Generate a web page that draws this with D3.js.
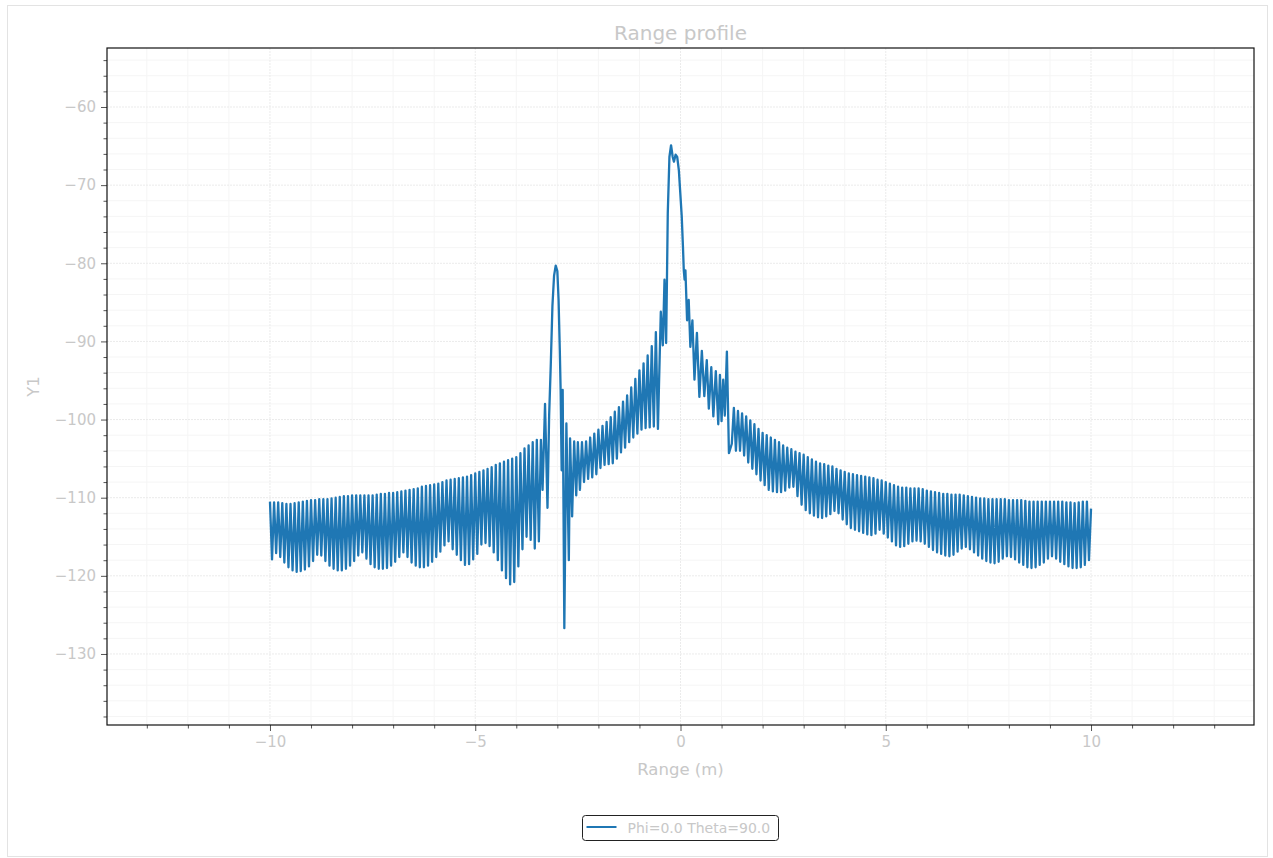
<!DOCTYPE html>
<html>
<head>
<meta charset="utf-8">
<script src="https://cdn.jsdelivr.net/npm/d3@7"></script>
<style>
  html, body { margin: 0; padding: 0; background: #ffffff; }
  svg { display: block; font-family: "DejaVu Sans", sans-serif; }
</style>
</head>
<body>
<svg id="chart" width="1273" height="858"></svg>
<script>
// ---------------- DATA ----------------
const chartTitle = "Range profile";
const xLabel = "Range (m)";
const yLabel = "Y1";
const seriesName = "Phi=0.0 Theta=90.0";

const xTicks = [-10, -5, 0, 5, 10];
const yTicks = [-130, -120, -110, -100, -90, -80, -70, -60];

// sampling of the oscillating stretches: one ripple every 0.1 m
const rippleStep = 0.1;

// left side, -10.00 .. -3.50 (ripple tops) and -9.95 .. -3.45 (ripple nulls)
const leftStart = -10.0;
const leftPeaks = [
  -110.5, -110.6, -110.6, -110.7, -110.8, -110.8, -110.7, -110.6, -110.5, -110.4,
  -110.3, -110.3, -110.2, -110.2, -110.2, -110.1, -110.0, -109.9, -109.8, -109.8,
  -109.7, -109.7, -109.7, -109.7, -109.7, -109.7, -109.6, -109.5, -109.5, -109.4,
  -109.4, -109.3, -109.2, -109.1, -109.0, -108.9, -108.8, -108.6, -108.5, -108.4,
  -108.3, -108.2, -108.0, -107.8, -107.7, -107.6, -107.5, -107.4, -107.3, -107.1,
  -106.9, -106.7, -106.5, -106.3, -106.1, -105.8, -105.6, -105.4, -105.2, -105.0,
  -104.8, -104.3, -103.7, -103.3, -102.9, -102.6
];
const leftNulls = [
  -117.9, -117.1, -117.6, -118.3, -118.9, -119.3, -119.5, -119.4, -119.2, -118.8,
  -118.1, -117.3, -117.4, -118.1, -118.7, -119.1, -119.3, -119.3, -119.1, -118.7,
  -118.1, -117.4, -117.0, -117.8, -118.5, -118.9, -119.1, -119.1, -119.0, -118.7,
  -118.2, -117.6, -117.0, -117.6, -118.3, -118.7, -118.9, -118.9, -118.7, -118.2,
  -117.6, -116.9, -116.1, -115.6, -116.6, -117.3, -118.0, -118.6, -118.5, -117.9,
  -117.2, -116.0, -115.8, -116.2, -117.0, -118.0, -119.3, -120.3, -121.1, -120.8,
  -118.8, -116.6, -115.0, -115.4, -116.5, -115.6
];

// secondary scatterer near -3 m (irregular samples)
const targetAX = [-3.40, -3.36, -3.30, -3.24, -3.20, -3.16, -3.12, -3.08, -3.04, -3.00,
                  -2.97, -2.94, -2.92, -2.895, -2.87, -2.83, -2.78, -2.72, -2.69, -2.64,
                  -2.59, -2.54];
const targetADb = [-102.6, -109.0, -98.0, -111.3, -99.5, -93.0, -85.5, -81.6, -80.3, -81.0,
                   -84.7, -91.1, -96.2, -106.5, -96.2, -126.7, -100.5, -118.0, -102.4, -112.4,
                   -102.8, -109.7];

// middle stretch, -2.50 .. -0.60 (tops) and -2.45 .. -0.55 (nulls)
const midStart = -2.5;
const midPeaks = [
  -102.9, -102.9, -102.8, -102.3, -101.8, -101.3, -100.8, -100.3, -99.7, -99.0,
  -98.4, -97.7, -96.9, -95.9, -94.8, -93.7, -92.8, -91.8, -90.6, -88.8
];
const midNulls = [
  -109.0, -108.0, -107.6, -107.4, -107.0, -106.2, -105.8, -105.7, -105.6, -105.0,
  -104.2, -103.6, -102.9, -102.3, -101.8, -101.3, -101.1, -101.0, -100.9, -101.2
];

// main scatterer near 0 m (irregular samples)
const targetBX = [-0.48, -0.43, -0.39, -0.35, -0.33, -0.31, -0.27, -0.23, -0.19, -0.16,
                  -0.12, -0.08, -0.04, -0.01, 0.03, 0.06, 0.08, 0.10, 0.12, 0.16,
                  0.20, 0.24, 0.29, 0.34, 0.40, 0.46, 0.52, 0.58, 0.64, 0.69,
                  0.75, 0.80, 0.86, 0.92, 0.96, 1.00, 1.04, 1.08, 1.13, 1.18];
const targetBDb = [-86.2, -90.5, -82.1, -90.2, -82.1, -73.6, -66.4, -64.9, -66.4, -67.0,
                   -66.1, -66.4, -68.1, -70.6, -74.0, -77.9, -80.9, -82.1, -80.9, -87.3,
                   -84.7, -90.7, -87.3, -94.9, -88.9, -97.1, -91.2, -97.0, -92.4, -98.6,
                   -93.3, -99.6, -93.8, -100.6, -94.3, -100.2, -94.9, -99.5, -91.3, -104.3];

// right side, 1.25 .. 9.95 (nulls) and 1.30 .. 10.00 (tops)
const rightStart = 1.25;
const rightNulls = [
  -103.1, -104.0, -104.0, -104.6, -105.5, -106.3, -107.0, -107.8, -108.4, -109.0,
  -109.2, -109.3, -109.3, -109.1, -108.7, -108.6, -109.8, -110.9, -111.6, -112.0,
  -112.3, -112.5, -112.6, -112.4, -112.1, -111.7, -112.0, -112.8, -113.4, -113.9,
  -114.1, -114.3, -114.5, -114.7, -114.8, -114.6, -114.1, -114.6, -115.1, -115.6,
  -116.1, -116.3, -116.2, -115.9, -115.6, -115.5, -115.6, -115.9, -116.3, -116.7,
  -117.0, -117.2, -117.4, -117.5, -117.3, -116.9, -116.5, -116.3, -116.6, -117.0,
  -117.4, -117.8, -118.1, -118.3, -118.4, -118.2, -117.8, -117.5, -117.6, -117.9,
  -118.3, -118.6, -118.9, -119.0, -118.9, -118.6, -118.3, -117.8, -117.5, -117.8,
  -118.2, -118.5, -118.8, -119.0, -119.0, -118.9, -118.6, -118.0
];
const rightPeaks = [
  -98.5, -98.9, -99.2, -99.6, -100.1, -100.6, -101.2, -101.7, -102.0, -102.3,
  -102.6, -102.9, -103.3, -103.6, -103.8, -104.1, -104.3, -104.5, -104.8, -105.1,
  -105.4, -105.6, -105.7, -105.9, -106.0, -106.3, -106.5, -106.7, -106.9, -107.0,
  -107.1, -107.2, -107.3, -107.4, -107.5, -107.7, -107.8, -108.0, -108.2, -108.4,
  -108.6, -108.7, -108.7, -108.8, -108.8, -108.8, -108.9, -109.1, -109.2, -109.3,
  -109.4, -109.5, -109.5, -109.6, -109.6, -109.6, -109.7, -109.8, -109.9, -110.0,
  -110.1, -110.1, -110.2, -110.2, -110.2, -110.2, -110.2, -110.3, -110.3, -110.3,
  -110.3, -110.4, -110.5, -110.5, -110.5, -110.5, -110.5, -110.5, -110.5, -110.5,
  -110.5, -110.6, -110.6, -110.7, -110.6, -110.5, -110.5, -111.4
];

// ---------------- BUILD SERIES ----------------
const points = [];
leftPeaks.forEach((v, i) => {
  points.push([leftStart + i * rippleStep, v]);
  points.push([leftStart + (i + 0.5) * rippleStep, leftNulls[i]]);
});
targetAX.forEach((x, i) => points.push([x, targetADb[i]]));
midPeaks.forEach((v, i) => {
  points.push([midStart + i * rippleStep, v]);
  points.push([midStart + (i + 0.5) * rippleStep, midNulls[i]]);
});
targetBX.forEach((x, i) => points.push([x, targetBDb[i]]));
rightNulls.forEach((v, i) => {
  points.push([rightStart + i * rippleStep, v]);
  points.push([rightStart + (i + 0.5) * rippleStep, rightPeaks[i]]);
});

// ---------------- DRAW ----------------
const plot = { left: 107, right: 1254, top: 48, bottom: 725 };
const textColor = "#c8c8c8";
const lineColor = "#1f77b4";

const svg = d3.select("#chart");

// figure border
svg.append("rect")
  .attr("x", 7.5).attr("y", 5.5).attr("width", 1260).attr("height", 851)
  .attr("fill", "#ffffff").attr("stroke", "#e3e3e3").attr("stroke-width", 1);

const x = d3.scaleLinear().domain([-13.97, 13.97]).range([plot.left, plot.right]);
const y = d3.scaleLinear().domain([-139.09, -52.45]).range([plot.bottom, plot.top]);

const xMinor = d3.range(-13, 14, 1).filter(v => v % 5 !== 0);
const yMinor = d3.range(-138, -52, 2).filter(v => v % 10 !== 0);

// grid
const grid = svg.append("g");
grid.selectAll(".gxm").data(xMinor).join("line")
  .attr("x1", d => x(d)).attr("x2", d => x(d))
  .attr("y1", plot.top).attr("y2", plot.bottom)
  .attr("stroke", "#f5f5f5").attr("stroke-width", 1);
grid.selectAll(".gym").data(yMinor).join("line")
  .attr("x1", plot.left).attr("x2", plot.right)
  .attr("y1", d => y(d)).attr("y2", d => y(d))
  .attr("stroke", "#f5f5f5").attr("stroke-width", 1);
grid.selectAll(".gx").data(xTicks).join("line")
  .attr("x1", d => x(d)).attr("x2", d => x(d))
  .attr("y1", plot.top).attr("y2", plot.bottom)
  .attr("stroke", "#ebebeb").attr("stroke-width", 1).attr("stroke-dasharray", "2,1");
grid.selectAll(".gy").data(yTicks).join("line")
  .attr("x1", plot.left).attr("x2", plot.right)
  .attr("y1", d => y(d)).attr("y2", d => y(d))
  .attr("stroke", "#ebebeb").attr("stroke-width", 1).attr("stroke-dasharray", "2,1");

// clip
svg.append("clipPath").attr("id", "clip").append("rect")
  .attr("x", plot.left).attr("y", plot.top)
  .attr("width", plot.right - plot.left).attr("height", plot.bottom - plot.top);

// series line
const line = d3.line().x(d => x(d[0])).y(d => y(d[1])).curve(d3.curveLinear);
svg.append("path")
  .datum(points)
  .attr("clip-path", "url(#clip)")
  .attr("d", line)
  .attr("fill", "none")
  .attr("stroke", lineColor)
  .attr("stroke-width", 2.3)
  .attr("stroke-linejoin", "round");

// axes
const fmt = d => (d < 0 ? "\u2212" + Math.abs(d) : String(d));
const xAxis = d3.axisBottom(x).tickValues(xTicks).tickFormat(fmt).tickSize(6).tickPadding(5);
const yAxis = d3.axisLeft(y).tickValues(yTicks).tickFormat(fmt).tickSize(6).tickPadding(5);
const xAxisMinor = d3.axisBottom(x).tickValues(xMinor).tickFormat("").tickSize(3.5);
const yAxisMinor = d3.axisLeft(y).tickValues(yMinor).tickFormat("").tickSize(3.5);

function styleAxis(g) {
  g.select(".domain").remove();
  g.selectAll(".tick line").attr("stroke", "#555555").attr("stroke-width", 1);
  g.selectAll(".tick text").attr("fill", textColor)
    .style("font-family", "DejaVu Sans, sans-serif").style("font-size", "15px");
}
svg.append("g").attr("transform", `translate(0,${plot.bottom})`).call(xAxisMinor).call(styleAxis);
svg.append("g").attr("transform", `translate(${plot.left},0)`).call(yAxisMinor).call(styleAxis);
svg.append("g").attr("transform", `translate(0,${plot.bottom})`).call(xAxis).call(styleAxis);
svg.append("g").attr("transform", `translate(${plot.left},0)`).call(yAxis).call(styleAxis);

// frame
svg.append("rect")
  .attr("x", plot.left).attr("y", plot.top)
  .attr("width", plot.right - plot.left).attr("height", plot.bottom - plot.top)
  .attr("fill", "none").attr("stroke", "#111111").attr("stroke-width", 1.2);

// title & labels
svg.append("text").attr("x", (plot.left + plot.right) / 2).attr("y", 40)
  .attr("text-anchor", "middle").attr("fill", textColor)
  .style("font-size", "20px").text(chartTitle);
svg.append("text").attr("x", (plot.left + plot.right) / 2).attr("y", 775)
  .attr("text-anchor", "middle").attr("fill", textColor)
  .style("font-size", "16.5px").text(xLabel);
svg.append("text").attr("transform", `translate(39,${(plot.top + plot.bottom) / 2}) rotate(-90)`)
  .attr("text-anchor", "middle").attr("fill", textColor)
  .style("font-size", "16.5px").text(yLabel);

// legend
const lg = svg.append("g").attr("transform", "translate(582.5,815.5)");
lg.append("rect").attr("width", 196).attr("height", 25).attr("rx", 3).attr("ry", 3)
  .attr("fill", "#ffffff").attr("stroke", "#222222").attr("stroke-width", 1);
lg.append("line").attr("x1", 4).attr("x2", 34).attr("y1", 11.5).attr("y2", 11.5)
  .attr("stroke", lineColor).attr("stroke-width", 2);
lg.append("text").attr("x", 45).attr("y", 17).attr("fill", textColor)
  .style("font-size", "14px").text(seriesName);
</script>
</body>
</html>
